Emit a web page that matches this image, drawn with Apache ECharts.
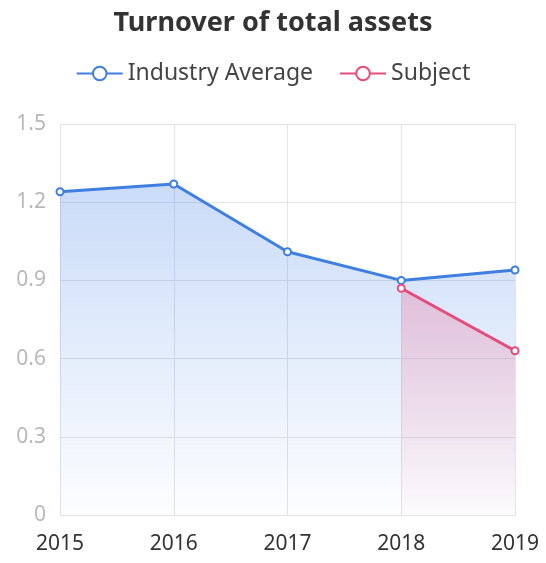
<!DOCTYPE html>
<html>
<head>
<meta charset="utf-8">
<script src="https://cdn.jsdelivr.net/npm/echarts@6/dist/echarts.min.js"></script>
<style>
    html, body { margin: 0; padding: 0; background: #fff; }
    #chart { width: 546px; height: 563px; }
</style>
</head>
<body>
<div id="chart"></div>
<script>
// 年份
let years = ['2015', '2016', '2017', '2018', '2019'];
// 行业平均
let industryAverage = [1.24, 1.27, 1.01, 0.90, 0.94];
// 本公司
let subject = [null, null, null, 0.87, 0.63];
let seriesNames = ['Industry Average', 'Subject'];

let myChart = echarts.init(document.getElementById('chart'));

function areaGradient(r, g, b, a) {
    return new echarts.graphic.LinearGradient(0, 0, 0, 1, [
        { offset: 0, color: 'rgba(' + r + ',' + g + ',' + b + ',' + a + ')' },
        { offset: 1, color: 'rgba(' + r + ',' + g + ',' + b + ',0.02)' }
    ]);
}

let option = {
    textStyle: { fontFamily: 'Noto Sans' },
    title: {
        text: 'Turnover of total assets',
        left: 'center',
        top: 5,
        textStyle: { fontSize: 27, fontWeight: 'bold', color: '#333' }
    },
    legend: {
        data: seriesNames,
        top: 57,
        left: 'center',
        itemWidth: 46,
        itemHeight: 17,
        itemGap: 26,
        textStyle: { fontSize: 23, color: '#444' }
    },
    grid: {
        left: 60,
        right: 31,
        top: 124,
        bottom: 48
    },
    xAxis: {
        type: 'category',
        data: years,
        boundaryGap: false,
        axisLine: { lineStyle: { color: '#e3e3e8' } },
        axisTick: { show: false },
        axisLabel: { fontSize: 21, color: '#333', margin: 19 },
        splitLine: { show: true, lineStyle: { color: '#e3e3e8' } }
    },
    yAxis: {
        type: 'value',
        min: 0,
        max: 1.5,
        interval: 0.3,
        axisLine: { show: false },
        axisTick: { show: false },
        axisLabel: { fontSize: 21, color: '#b8b8b8', margin: 14 },
        splitLine: { lineStyle: { color: '#e3e3e8' } }
    },
    series: [{
        name: seriesNames[0],
        type: 'line',
        data: industryAverage,
        symbol: 'emptyCircle',
        symbolSize: 7,
        itemStyle: { color: '#3f7fe0' },
        lineStyle: { width: 3, color: '#3f7fe0' },
        areaStyle: { color: areaGradient(74, 134, 232, 0.42) }
    }, {
        name: seriesNames[1],
        type: 'line',
        data: subject,
        symbol: 'emptyCircle',
        symbolSize: 7,
        itemStyle: { color: '#e64c7a' },
        lineStyle: { width: 3, color: '#e64c7a' },
        areaStyle: { color: areaGradient(238, 105, 145, 0.45) }
    }]
};
myChart.setOption(option);
</script>
</body>
</html>
